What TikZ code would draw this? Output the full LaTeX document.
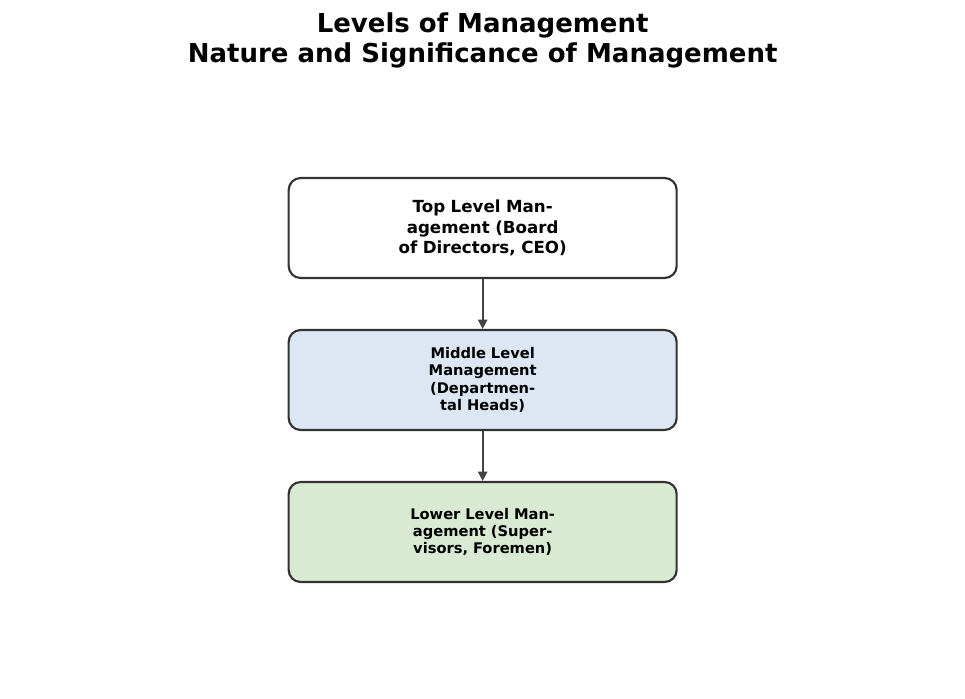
\documentclass[tikz,border=0pt]{standalone}
\usepackage{fontspec}
\setmainfont{DejaVu Sans}
\usetikzlibrary{arrows.meta}
\definecolor{bordc}{HTML}{333333}
\definecolor{arrc}{HTML}{444444}
\definecolor{midc}{HTML}{DCE7F3}
\definecolor{lowc}{HTML}{D9EAD3}
\begin{document}
\begin{tikzpicture}[x=1pt,y=-1pt,
  lvl/.style={draw=bordc,line width=1.6pt,rounded corners=9pt,minimum width=291pt,minimum height=75pt,align=center,font=\bfseries,text width=150pt},
  conn/.style={draw=arrc,line width=1.5pt,-{Triangle[length=7pt,width=7pt]}}]
\useasboundingbox (0,0) rectangle (723.75,524.25);
\node[font=\bfseries\fontsize{19.5}{22.5}\selectfont,align=center] (title) at (362,30) {Levels of Management\\Nature and Significance of Management};
\node[lvl,fill=white,font=\bfseries\fontsize{12.5}{15.5}\selectfont] (top) at (362,171) {Top Level Management (Board of Directors, CEO)};
\node[lvl,fill=midc,font=\bfseries\fontsize{11}{13}\selectfont,text width=110pt] (mid) at (362,285) {Middle Level Management (Departmental Heads)};
\node[lvl,fill=lowc,font=\bfseries\fontsize{11}{13}\selectfont,text width=110pt] (low) at (362,399) {Lower Level Management (Supervisors, Foremen)};
\draw[conn] (top) -- (mid);
\draw[conn] (mid) -- (low);
\end{tikzpicture}
\end{document}
